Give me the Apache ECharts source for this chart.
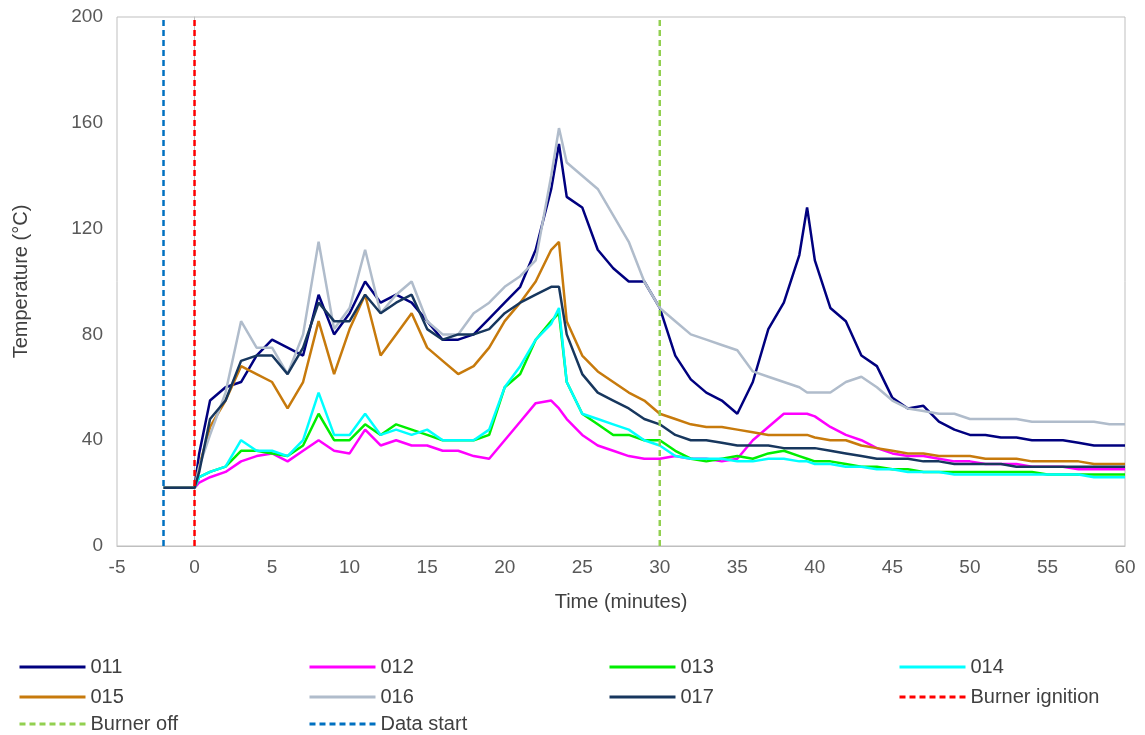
<!DOCTYPE html><html><head><meta charset="utf-8"><script src="https://cdn.jsdelivr.net/npm/echarts@6/dist/echarts.min.js"></script></head><body style="margin:0"><div id="c" style="width:1145px;height:735px"></div><script>
const times=[-2,-1,0,0.3,1,2,3,4,5,6,7,8,9,10,11,12,13,14,15,16,17,18,19,20,21,22,23,23.5,24,25,26,27,28,29,30,31,32,33,34,35,36,37,38,39,39.5,40,41,42,43,44,45,46,47,48,49,50,51,52,53,54,55,56,57,58,59,60];
const s011=[22,22,22,35,55,60,62,72,78,75,72,95,80,88,100,92,95,92,85,78,78,80,86,92,98,112,135,152,132,128,112,105,100,100,90,72,63,58,55,50,62,82,92,110,128,108,90,85,72,68,56,52,53,47,44,42,42,41,41,40,40,40,39,38,38,38];
const s012=[22,22,22,24,26,28,32,34,35,32,36,40,36,35,44,38,40,38,38,36,36,34,33,40,47,54,55,52,48,42,38,36,34,33,33,34,33,33,32,33,40,45,50,50,50,49,45,42,40,37,35,34,34,33,32,32,31,31,31,30,30,30,29,29,29,29];
const s013=[22,22,22,26,28,30,36,36,35,34,38,50,40,40,46,42,46,44,42,40,40,40,42,60,65,78,85,88,62,50,46,42,42,40,40,36,33,32,33,34,33,35,36,34,33,32,32,31,30,30,29,29,28,28,28,28,28,28,28,28,27,27,27,27,27,27];
const s014=[22,22,22,26,28,30,40,36,36,34,40,58,42,42,50,42,44,42,44,40,40,40,44,60,68,78,84,90,62,50,48,46,44,40,38,34,33,33,33,32,32,33,33,32,32,31,31,30,30,29,29,28,28,28,27,27,27,27,27,27,27,27,27,26,26,26];
const s015=[22,22,22,30,45,55,68,65,62,52,62,85,65,82,95,72,80,88,75,70,65,68,75,85,92,100,112,115,85,72,66,62,58,55,50,48,46,45,45,44,43,42,42,42,42,41,40,40,38,37,36,35,35,34,34,34,33,33,33,32,32,32,32,31,31,31];
const s016=[22,22,22,30,42,58,85,75,75,65,80,115,82,90,112,88,95,100,85,80,80,88,92,98,102,108,140,158,145,140,135,125,115,100,90,85,80,78,76,74,66,64,62,60,58,58,58,62,64,60,55,52,51,50,50,48,48,48,48,47,47,47,47,47,46,46];
const s017=[22,22,22,28,48,55,70,72,72,65,75,92,85,85,95,88,92,95,82,78,80,80,82,88,92,95,98,98,80,65,58,55,52,48,46,42,40,40,39,38,38,38,37,37,37,37,36,35,34,33,33,33,32,32,31,31,31,31,30,30,30,30,30,30,30,30];
const names=['011','012','013','014','015','016','017'];
const colors=['#00007f','#ff00ff','#00ee00','#00ffff','#c77a0c','#b0bccb','#17375e'];
const vals=[s011,s012,s013,s014,s015,s016,s017];
const vNames=['Burner ignition','Burner off','Data start'];
const vX=[0,30,-2];
const vColors=['#ff0000','#92d050','#0070c0'];
const series=names.map((n,i)=>({name:n,type:'line',symbol:'none',lineStyle:{width:2.5,color:colors[i]},itemStyle:{color:colors[i]},data:times.map((t,j)=>[t,vals[i][j]])}));
vNames.forEach((n,i)=>series.push({name:n,type:'line',symbol:'none',lineStyle:{width:2.5,type:[6,4],color:vColors[i]},itemStyle:{color:vColors[i]},data:[[vX[i],0],[vX[i],200]]}));
const allNames=names.concat(vNames);
const colL=[13,303,603,893],rowT=[652,682,709];
const legends=allNames.map((n,i)=>({data:[n],left:colL[i%4],top:rowT[Math.floor(i/4)],itemWidth:66,itemHeight:14,itemGap:0,itemStyle:{opacity:0},lineStyle:{width:3},textStyle:{fontSize:20,color:'#404040',fontFamily:'Arial, Liberation Sans'}}));
const f={fontSize:19,color:'#595959',fontFamily:'Arial, Liberation Sans'};
echarts.init(document.getElementById('c')).setOption({animation:false,legend:legends,
grid:{left:117,right:20,top:17,bottom:189,show:true,borderColor:'#bfbfbf',borderWidth:1},
xAxis:{type:'value',min:-5,max:60,interval:5,name:'Time (minutes)',nameLocation:'middle',nameGap:46,nameTextStyle:{fontSize:20,color:'#404040',fontFamily:'Arial, Liberation Sans'},axisLabel:Object.assign({margin:12},f),axisLine:{lineStyle:{color:'#bfbfbf'}},axisTick:{show:false},splitLine:{show:false}},
yAxis:{type:'value',min:0,max:200,interval:40,name:'Temperature (°C)',nameLocation:'middle',nameGap:86,nameTextStyle:{fontSize:20,color:'#404040',fontFamily:'Arial, Liberation Sans'},axisLabel:Object.assign({margin:14},f),axisLine:{show:true,lineStyle:{color:'#bfbfbf'}},axisTick:{show:false},splitLine:{show:false}},
series});
</script></body></html>
